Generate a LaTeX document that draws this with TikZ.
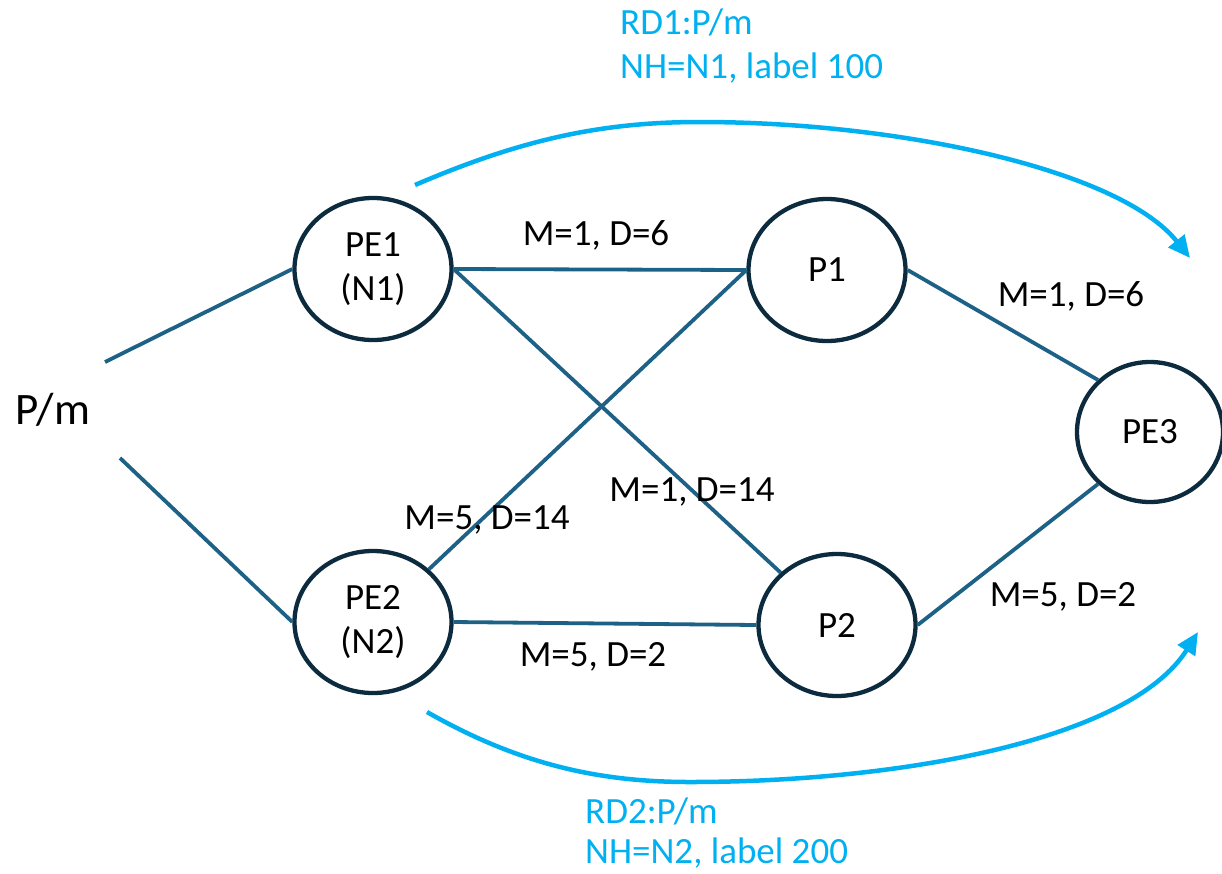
\documentclass[tikz,border=0pt]{standalone}
\usepackage{fontspec}
\setmainfont{Carlito}
\usetikzlibrary{shapes.geometric,arrows.meta}
\definecolor{linkc}{HTML}{1E6186}
\definecolor{ringc}{HTML}{0D2B3E}
\definecolor{rdc}{HTML}{00B0F0}
\begin{document}
\begin{tikzpicture}[x=1pt,y=-1pt,
  router/.style={ellipse,draw=ringc,line width=4.3pt,minimum width=157pt,minimum height=142pt,inner sep=0pt,align=center,font=\fontsize{37}{44}\selectfont},
  link/.style={draw=linkc,line width=3.8pt},
  metric/.style={font=\fontsize{37}{44}\selectfont,inner sep=0pt},
  rdtext/.style={font=\fontsize{37}{46}\selectfont,text=rdc,inner sep=0pt,anchor=west},
  adv/.style={draw=rdc,line width=4.5pt,-{Triangle[length=22pt,width=20pt]}}]
\useasboundingbox (0,0) rectangle (1222,873);
\node[router] (PE1) at (373,269) {PE1\\(N1)};
\node[router] (PE2) at (373,622) {PE2\\(N2)};
\node[router] (P1) at (827,270) {P1};
\node[router] (P2) at (837,625) {P2};
\node[router,minimum width=146pt,minimum height=140pt] (PE3) at (1150,432) {PE3};
\node[font=\fontsize{45}{54}\selectfont,inner sep=0pt] (Pm) at (53,410) {P/m};
\coordinate (pa) at (105,362);
\coordinate (pb) at (120,458);
\draw[link] (pa) -- (PE1.west);
\draw[link] (pb) -- (PE2.west);
\draw[link] (PE1.east) -- (P1.west);
\draw[link] (PE1.east) -- (P2);
\draw[link] (PE2) -- (P1.west);
\draw[link] (PE2.east) -- (P2.west);
\draw[link] (P1.east) -- (PE3.135);
\draw[link] (P2.east) -- (PE3.225);
\node[metric] (m1) at (596,235) {M=1, D=6};
\node[metric] (m2) at (1071,296) {M=1, D=6};
\node[metric] (m3) at (487,520) {M=5, D=14};
\node[metric] (m4) at (692,492) {M=1, D=14};
\node[metric] (m5) at (593,657) {M=5, D=2};
\node[metric] (m6) at (1063,597) {M=5, D=2};
\node[rdtext] (rd1a) at (620,22) {RD1:P/m};
\node[rdtext] (rd1b) at (620,68) {NH=N1, label 100};
\node[rdtext] (rd2a) at (585,811) {RD2:P/m};
\node[rdtext] (rd2b) at (585,853) {NH=N2, label 200};
\coordinate (a1s) at (415,185);
\coordinate (a1m) at (700,122);
\coordinate (a1e) at (1190,258);
\coordinate (a2s) at (427,712);
\coordinate (a2m) at (690,782);
\coordinate (a2e) at (1198,632);
\draw[adv] (a1s) .. controls (520,140) and (600,122) .. (a1m) .. controls (900,122) and (1120,170) .. (a1e);
\draw[adv] (a2s) .. controls (520,765) and (600,782) .. (a2m) .. controls (900,782) and (1130,740) .. (a2e);
\end{tikzpicture}
\end{document}
